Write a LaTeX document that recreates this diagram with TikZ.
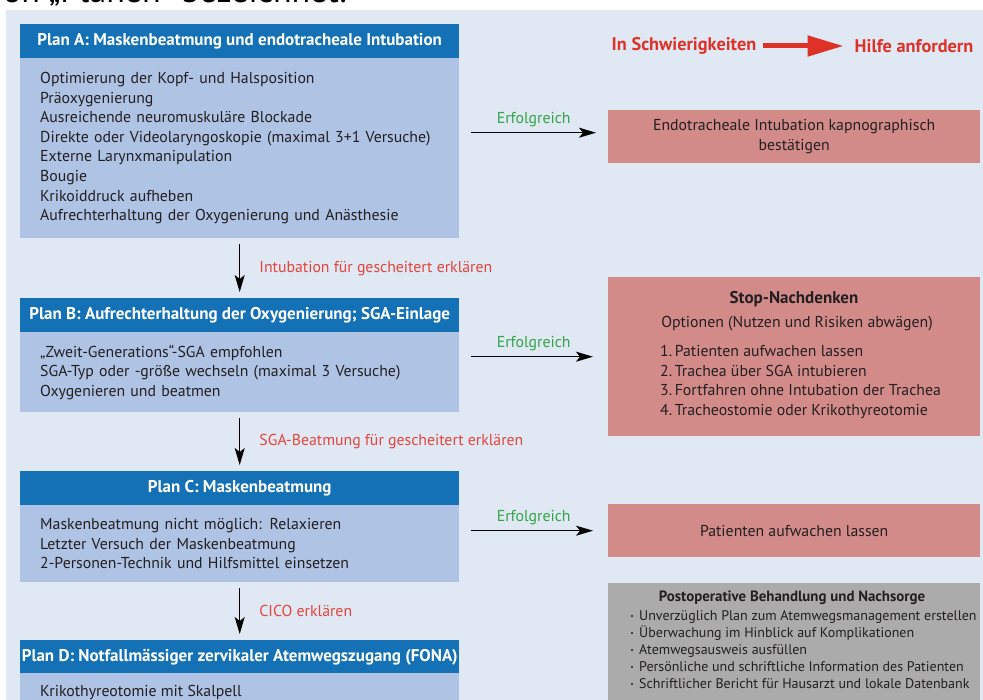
\documentclass[tikz,border=0pt]{standalone}
\usepackage{fontspec}
\setmainfont{PT Sans}
\usetikzlibrary{arrows.meta}
\definecolor{panel}{RGB}{223,232,243}
\definecolor{hblue}{RGB}{20,113,181}
\definecolor{bblue}{RGB}{175,195,229}
\definecolor{pinkc}{RGB}{211,139,138}
\definecolor{grayc}{RGB}{171,171,171}
\definecolor{redt}{RGB}{222,50,40}
\definecolor{redl}{RGB}{228,68,60}
\definecolor{greent}{RGB}{50,165,70}
\definecolor{textc}{RGB}{35,31,32}
\tikzset{
  header/.style={fill=hblue, text=white, font=\fontsize{17}{19}\selectfont\bfseries, anchor=north west, minimum width=439pt, minimum height=34pt, inner sep=0pt},
  bodybox/.style={fill=bblue, text=textc, font=\fontsize{15.8}{19.6}\selectfont, anchor=north west, minimum width=439pt, inner xsep=20pt, inner ysep=0pt, text width=399pt, align=left},
  pinkbox/.style={fill=pinkc, anchor=north west, minimum width=372pt, inner sep=0pt},
  graybox/.style={fill=grayc, anchor=north west, minimum width=372pt, inner sep=0pt},
  txt/.style={text=textc, font=\fontsize{15.8}{19.6}\selectfont, inner sep=0pt},
  arr/.style={line width=1.5pt, -{Stealth[length=17pt,width=10pt,inset=4pt]}},
  okl/.style={text=greent, font=\fontsize{15.8}{18}\selectfont, inner sep=0pt, anchor=base, yshift=9pt},
  failt/.style={text=redl, font=\fontsize{15.8}{18}\selectfont, inner sep=0pt, anchor=west},
}
\begin{document}
\begin{tikzpicture}[x=1pt,y=-1pt]
\useasboundingbox (0,0) rectangle (983,700);
\clip (0,0) rectangle (983,700);
\fill[panel] (6,10) rectangle (983,700);
% cut-off heading text at very top
\node[anchor=base east, font=\fontsize{34}{38}\selectfont, text=black, inner sep=0pt] (toptext) at (347,3) {von „Plänen“ bezeichnet.};

% Plan A
\node[header] (hA) at (20,24) {Plan A: Maskenbeatmung und endotracheale Intubation};
\node[bodybox, minimum height=180pt] (bA) at (20,58) {Optimierung der Kopf- und Halsposition\\Präoxygenierung\\Ausreichende neuromuskuläre Blockade\\Direkte oder Videolaryngoskopie (maximal 3+1 Versuche)\\Externe Larynxmanipulation\\Bougie\\Krikoiddruck aufheben\\Aufrechterhaltung der Oxygenierung und Anästhesie};

% Plan B
\node[header] (hB) at (20,298) {Plan B: Aufrechterhaltung der Oxygenierung; SGA-Einlage};
\node[bodybox, minimum height=80pt] (bB) at (20,332) {„Zweit-Generations“-SGA empfohlen\\SGA-Typ oder -größe wechseln (maximal 3 Versuche)\\Oxygenieren und beatmen};

% Plan C
\node[header] (hC) at (20,471) {Plan C: Maskenbeatmung};
\node[bodybox, minimum height=77pt] (bC) at (20,505) {Maskenbeatmung nicht möglich: Relaxieren\\Letzter Versuch der Maskenbeatmung\\2-Personen-Technik und Hilfsmittel einsetzen};

% Plan D
\node[header] (hD) at (20,640) {Plan D: Notfallmässiger zervikaler Atemwegszugang (FONA)};
\node[bodybox, minimum height=70pt] (bD) at (20,673) {};
\node[txt, anchor=base west] (tD) at (40,696) {Krikothyreotomie mit Skalpell};

% right column
\node[pinkbox, minimum height=53pt, text=textc, font=\fontsize{15.8}{19.6}\selectfont, align=center] (eA) at (608,110) {Endotracheale Intubation kapnographisch\\bestätigen};
\node[pinkbox, minimum height=159pt] (eB) at (608,277) {};
\node[txt, font=\fontsize{17}{19}\selectfont\bfseries, anchor=base] (sT) at (794,304) {Stop-Nachdenken};
\node[txt, anchor=base] (sO) at (797,328) {Optionen (Nutzen und Risiken abwägen)};
\node[txt, anchor=north west, align=left] (sL) at (660,345) {1.\,Patienten aufwachen lassen\\2.\,Trachea über SGA intubieren\\3.\,Fortfahren ohne Intubation der Trachea\\4.\,Tracheostomie oder Krikothyreotomie};
\node[pinkbox, minimum height=53pt, text=textc, font=\fontsize{15.8}{18}\selectfont] (eC) at (608,504) {Patienten aufwachen lassen};

\node[graybox, minimum height=130pt] (gD) at (608,583) {};
\node[txt, font=\fontsize{14.9}{17}\selectfont\bfseries, anchor=base] (gT) at (792,601) {Postoperative Behandlung und Nachsorge};
\node[txt, font=\fontsize{14}{17}\selectfont, anchor=north west, align=left] (gL) at (639,610) {Unverzüglich Plan zum Atemwegsmanagement erstellen\\Überwachung im Hinblick auf Komplikationen\\Atemwegsausweis ausfüllen\\Persönliche und schriftliche Information des Patienten\\Schriftlicher Bericht für Hausarzt und lokale Datenbank};
\foreach \yy in {616,633,650,667,684} \fill[textc] (632,\yy) circle (1.1pt);

% top hint
\node[text=redt, font=\fontsize{18.3}{21}\selectfont\bfseries, inner sep=0pt] (hs) at (684,46) {In Schwierigkeiten};
\node[text=redt, font=\fontsize{18.3}{21}\selectfont\bfseries, inner sep=0pt] (hh) at (914,46) {Hilfe anfordern};
\draw[redt, line width=5pt, -{Triangle[length=36pt,width=20pt]}, shorten <=7pt, shorten >=11pt] (hs.east) -- (hh.west);

% vertical arrows
\draw[arr, shorten <=6pt, shorten >=6pt] (bA.south) -- (hB.north) node[failt, pos=0.5, xshift=19pt] {Intubation für gescheitert erklären};
\draw[arr, shorten <=6pt, shorten >=6pt] (bB.south) -- (hC.north) node[failt, pos=0.5, xshift=19pt] {SGA-Beatmung für gescheitert erklären};
\draw[arr, shorten <=6pt, shorten >=6pt] (bC.south) -- (hD.north) node[failt, pos=0.5, xshift=19pt] {CICO erklären};

% success arrows
\draw[arr, shorten <=12pt, shorten >=12pt] ([yshift=4pt]bA.east |- eA.west) -- ([yshift=4pt]eA.west) node[okl, midway] {Erfolgreich};
\draw[arr, shorten <=12pt, shorten >=15pt] (bB.east |- eB.west) -- (eB.west) node[okl, midway] {Erfolgreich};
\draw[arr, shorten <=12pt, shorten >=15pt] (bC.east |- eC.west) -- (eC.west) node[okl, midway] {Erfolgreich};
\end{tikzpicture}
\end{document}
